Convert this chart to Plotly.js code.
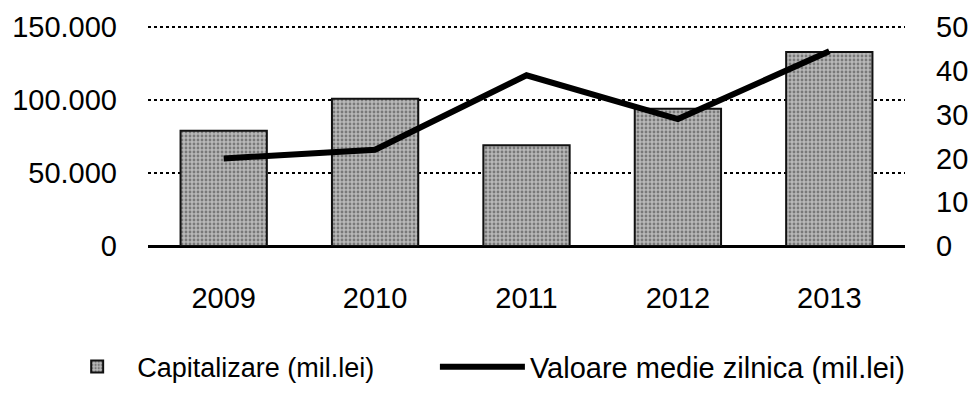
<!DOCTYPE html>
<html>
<head>
<meta charset="utf-8">
<script src="https://cdn.plot.ly/plotly-3.0.1.min.js"></script>
<style>html,body{margin:0;padding:0;background:#fff;}#chart{width:972px;height:405px;}</style>
</head>
<body>
<div id="chart"></div>
<script>
const years = ['2009', '2010', '2011', '2012', '2013'];
const capitalizare = [79000, 101000, 69000, 94000, 133000];
const valoareMedie = [20, 22, 39, 29, 44.5];
const leftTicks = [0, 50000, 100000, 150000];
const rightTicks = [0, 10, 20, 30, 40, 50];

const tickFont = {family: 'Liberation Sans, Arial, sans-serif', size: 29, color: '#000'};
const legendFont = {family: 'Liberation Sans, Arial, sans-serif', size: 27, color: '#000'};
const legendFont2 = {family: 'Liberation Sans, Arial, sans-serif', size: 29, color: '#000'};

const data = [
  {
    type: 'bar', x: years, y: capitalizare, name: 'Capitalizare (mil.lei)',
    marker: {
      color: '#9c9c9c',
      line: {color: '#111', width: 2},
      pattern: {shape: '.', bgcolor: '#b8b8b8', fgcolor: '#3a3a3a', size: 4, solidity: 0.4, fillmode: 'overlay'}
    },
    yaxis: 'y', legend: 'legend'
  },
  {
    type: 'scatter', mode: 'lines', x: years, y: valoareMedie, name: 'Valoare medie zilnica (mil.lei)',
    line: {color: '#000', width: 6}, yaxis: 'y2', legend: 'legend2'
  }
];

const layout = {
  width: 972, height: 405,
  margin: {l: 148, r: 67, t: 26, b: 155},
  paper_bgcolor: '#fff', plot_bgcolor: '#fff',
  separators: ',.',
  font: legendFont,
  bargap: 0.43,
  showlegend: true,
  legend: {orientation: 'h', x: -0.12, xanchor: 'left', y: -0.55, yanchor: 'middle',
           font: legendFont, itemwidth: 70},
  legend2: {orientation: 'h', x: 0.379, xanchor: 'left', y: -0.55, yanchor: 'middle',
           font: legendFont2, itemwidth: 85},
  xaxis: {
    type: 'category', showgrid: false, showline: false, zeroline: false,
    ticks: '', ticklabelstandoff: 32, tickfont: tickFont
  },
  yaxis: {
    range: [0, 150800], tickvals: leftTicks, tickformat: ',d',
    showgrid: true, gridcolor: '#000', gridwidth: 2, griddash: 'dot',
    zeroline: true, zerolinecolor: '#000', zerolinewidth: 3,
    showline: false, ticks: '', ticklabelstandoff: 30, tickfont: tickFont
  },
  yaxis2: {
    overlaying: 'y', side: 'right', range: [0, 50.27], tickvals: rightTicks,
    showgrid: false, zeroline: false, showline: false, ticks: '',
    ticklabelstandoff: 30, tickfont: tickFont
  }
};

Plotly.newPlot('chart', data, layout, {displayModeBar: false, staticPlot: true});
</script>
</body>
</html>
